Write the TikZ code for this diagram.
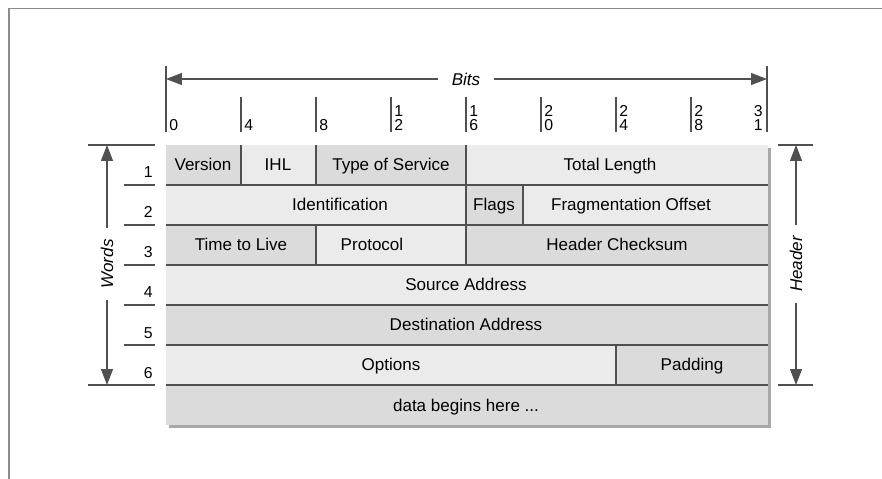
\documentclass[tikz,border=0pt]{standalone}
\usepackage{fontspec}
\setmainfont{Liberation Sans}
\usepackage{xcolor}
\usetikzlibrary{arrows.meta, positioning, calc}
\definecolor{celldark}{HTML}{DBDBDB}
\definecolor{celllight}{HTML}{EBEBEB}
\definecolor{gridgray}{HTML}{505050}
\definecolor{shadowgray}{HTML}{A8A8A8}
\definecolor{framegray}{HTML}{8C8C8C}

\begin{document}
\begin{tikzpicture}[x=0.02cm, y=-0.02cm,
    lbl/.style={font=\fontsize{9.7}{11}\selectfont, inner sep=0pt},
    numlbl/.style={font=\fontsize{9}{7.9}\selectfont, inner sep=0pt, align=left},
    dimln/.style={line width=0.6pt, gridgray},
    gridln/.style={line width=0.6pt, gridgray},
    tipend/.style={-{Triangle[length=0.32cm, width=0.24cm]}}]
    \useasboundingbox (0,0) rectangle (882,479);

    % page frame
    \draw[framegray, line width=1pt] (9,479) -- (9,8.5) -- (882,8.5);

    % bits
    \draw[dimln] (166,66) -- (166,132);
    \draw[dimln] (767,66) -- (767,132);
    \coordinate (bitsL) at (166,79);
    \coordinate (bitsR) at (767,79);
    \node[lbl, font=\fontsize{9.7}{11}\selectfont\itshape, inner xsep=0.26cm] (bits) at (466,79) {Bits};
    \draw[dimln, tipend] (bits) -- (bitsL);
    \draw[dimln, tipend] (bits) -- (bitsR);
    \foreach \x in {241, 316, 391, 466, 541, 616, 691} {
        \draw[dimln] (\x,97) -- (\x,132);
    }
    \foreach \x/\t/\n in {166/0/b0, 241/4/b4, 316/8/b8, 391/1\\2/b12, 466/1\\6/b16, 541/2\\0/b20, 616/2\\4/b24, 691/2\\8/b28} {
        \node[numlbl, anchor=south west] (\n) at ({\x+3},131) {\t};
    }
    \node[numlbl, anchor=south east] (b31) at (763,131) {3\\1};

    % table
    \fill[shadowgray] (169,148) rectangle (771,428);
    \foreach \xa/\xb/\r/\c/\cx/\t/\n in {
        166/241/1/celldark/203/Version/ver,
        241/316/1/celllight/278/IHL/ihl,
        316/466/1/celldark/391/Type of Service/tos,
        466/768/1/celllight/610/Total Length/len,
        166/466/2/celllight/340/Identification/ident,
        466/523/2/celldark/494/Flags/flg,
        523/768/2/celllight/631/Fragmentation Offset/frag,
        166/316/3/celldark/241/Time to Live/ttl,
        316/466/3/celllight/372/Protocol/proto,
        466/768/3/celldark/617/Header Checksum/csum,
        166/768/4/celllight/466/Source Address/src,
        166/768/5/celldark/466/Destination Address/dst,
        166/616/6/celllight/391/Options/opt,
        616/768/6/celldark/692/Padding/pad} {
        \pgfmathsetmacro{\ya}{105+40*\r}
        \pgfmathsetmacro{\yb}{145+40*\r}
        \fill[\c] (\xa,\ya) rectangle (\xb,\yb);
        \node[lbl, anchor=base] (\n) at (\cx,{\ya+26}) {\t};
    }
    \fill[celldark] (166,385) rectangle (768,425);
    \node[lbl, anchor=base] (data) at (466,411) {data begins here ...};
    \foreach \y in {185,225,...,385} {
        \draw[gridln] (166,\y) -- (768,\y);
    }
    \foreach \x/\ya/\yb in {241/145/185, 316/145/185, 466/145/185, 466/185/225, 523/185/225, 316/225/265, 466/225/265, 616/345/385} {
        \draw[gridln] (\x,\ya) -- (\x,\yb);
    }

    % words
    \draw[dimln] (88,145) -- (155,145);
    \draw[dimln] (88,385) -- (155,385);
    \foreach \y in {185,225,...,345} {
        \draw[dimln] (124,\y) -- (155,\y);
    }
    \foreach \r in {1,...,6} {
        \node[numlbl, anchor=base east] (w\r) at (153,{138+40*\r}) {\r};
    }
    \coordinate (wTop) at (107,145);
    \coordinate (wBot) at (107,385);
    \node[lbl, font=\fontsize{9.7}{11}\selectfont\itshape, rotate=90, inner xsep=0.22cm] (words) at (107,264) {Words};
    \draw[dimln, tipend] (words) -- (wTop);
    \draw[dimln, tipend] (words) -- (wBot);

    % header
    \draw[dimln] (778,145) -- (813,145);
    \draw[dimln] (778,385) -- (813,385);
    \coordinate (hTop) at (796,145);
    \coordinate (hBot) at (796,385);
    \node[lbl, font=\fontsize{9.7}{11}\selectfont\itshape, rotate=90, inner xsep=0.22cm] (hdr) at (796,264) {Header};
    \draw[dimln, tipend] (hdr) -- (hTop);
    \draw[dimln, tipend] (hdr) -- (hBot);
\end{tikzpicture}
\end{document}
